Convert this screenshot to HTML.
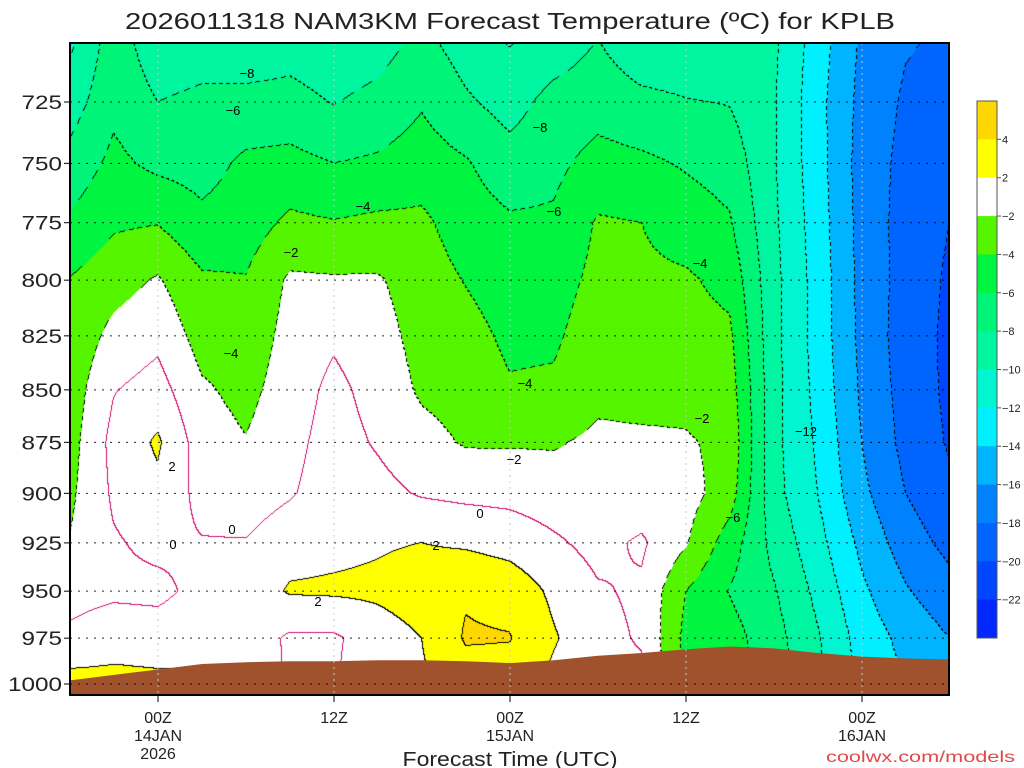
<!DOCTYPE html>
<html><head><meta charset="utf-8"><style>
html,body{margin:0;padding:0;background:#fff;}
#wrap{position:relative;width:1024px;height:768px;overflow:hidden;font-family:"Liberation Sans",sans-serif;}
#field{position:absolute;left:70px;top:43px;}
#ov{position:absolute;left:0;top:0;}
</style></head><body>
<div id="wrap">
<canvas id="field" width="880" height="652"></canvas>
<svg id="ov" width="1024" height="768"></svg>
</div>
<script>
// ---- data ----
const times = [-6,-3,0,3,6,9,12,15,18,21,24,27,30,33,36,39,42,45,48,51,54]; // hours from 00Z 14JAN
const pressures = [700,725,750,775,800,825,850,875,900,925,950,975,1000];
const temps = [
 [-10.5,-9,-7.3,-5.7,-3.9,-3.5,-3.1,-2.8,-2.4,-1.9,-0.7,0.4,2.8],
 [-7,-6.5,-5.5,-4.3,-2.8,-1.4,-0.1,0.6,0.3,-0.2,-0.4,1.2,2.6],
 [-9.3,-8,-6.5,-4.1,-1.8,-0.5,0.8,2.3,1.5,0.5,-0.5,1.0,2.5],
 [-9,-7.6,-6.8,-5.5,-3.7,-2.8,-1.7,-1.0,-0.6,0.1,0.6,1.2,2.3],
 [-9.5,-7.4,-5.6,-5.0,-3.9,-3.3,-2.6,-1.9,-1.0,0.1,0.8,1.2,1.5],
 [-9,-7.3,-5.4,-3.6,-1.7,-1.3,-1.0,-0.6,-0.2,1.2,2.2,-0.3,-0.3],
 [-9.5,-8.1,-6.0,-3.9,-1.8,-0.3,0.5,0.8,1.0,1.5,2.3,-0.3,-0.2],
 [-9,-7.4,-5.7,-3.6,-1.8,-1.2,-0.7,-0.2,0.6,1.8,2.4,1.0,1.5],
 [-7.5,-6.2,-5.0,-3.6,-3.0,-2.7,-2.3,-1.3,-0.2,2.0,3.0,2.0,1.7],
 [-9,-7.7,-5.8,-5.0,-4.1,-3.3,-2.8,-2.2,-0.5,1.7,3.8,4.2,3.0],
 [-10.2,-8.8,-7.2,-5.7,-5.0,-4.4,-3.8,-2.2,-0.6,1.2,3.3,4.1,3.0],
 [-9.3,-7.3,-6.5,-5.7,-4.8,-4.3,-3.7,-2.2,-1.0,0.3,1.6,2.2,1.5],
 [-8,-6.8,-5.3,-3.8,-3.5,-3.0,-2.5,-1.6,-1.2,-0.6,0.2,0.6,0.6],
 [-9.5,-7.5,-5.6,-4.0,-3.6,-3.2,-2.6,-1.7,-1.3,0.3,-0.3,-0.2,0.5],
 [-9.5,-7.9,-6.2,-5.0,-3.7,-3.3,-2.6,-1.8,-1.2,-1.8,-4.0,-4.5,-4.5],
 [-9.5,-8.1,-6.8,-5.8,-4.6,-3.6,-3.0,-2.5,-3.0,-5.0,-6.1,-5.2,-5],
 [-9.6,-9.8,-9.8,-9.6,-9.4,-9.4,-9.3,-9.4,-9.3,-8.6,-7.8,-7.2,-7],
 [-13.0,-13.3,-13.2,-13.0,-12.8,-12.8,-12.6,-12.3,-12.0,-11.3,-10.5,-9.8,-9.5],
 [-16.3,-16.6,-16.8,-16.7,-16.6,-16.5,-16.3,-16.0,-15.5,-14.5,-13.6,-12.8,-12.5],
 [-17.8,-18.3,-18.6,-18.8,-18.8,-19.0,-18.8,-18.6,-18.0,-17.0,-15.8,-14.6,-14],
 [-18.3,-18.8,-19.5,-20.0,-20.3,-20.4,-20.4,-20.2,-19.6,-18.6,-17.3,-16.0,-15.5]
];
const surfaceP = [998,995,992,989,988,987.5,987.5,987,987,987.5,988.5,987,984.5,983,981,979.5,980.5,983,985,986,986.5];
const levels = [-22,-20,-18,-16,-14,-12,-10,-8,-6,-4,-2,2,4];
const levelColors = ["#0028ff","#0046ff","#0064ff","#0082ff","#00b4ff","#00f0ff","#00f5d0","#00f5a0","#00f578","#00f540","#55f500","#ffffff","#ffff00","#ffd700"];
const barLabels = ["4","2","−2","−4","−6","−8","−10","−12","−14","−16","−18","−20","−22"];
const pTicks = [725,750,775,800,825,850,875,900,925,950,975,1000];
const tTicks = [0,12,24,36,48];
const tTickLabels = [["00Z","14JAN","2026"],["12Z"],["00Z","15JAN"],["12Z"],["00Z","16JAN"]];

// ---- axes ----
const X0=70,X1=949,Y0=43,Y1=695;
function xOf(t){return 158+t*176/12;}
function tOf(x){return (x-158)*12/176;}
function yOf(p){return 102+1809.8*(Math.log(p)-Math.log(725));}
function pOf(y){return Math.exp(Math.log(725)+(y-102)/1809.8);}

function tempAt(t,p){
  let ti=(t-times[0])/3; ti=Math.max(0,Math.min(times.length-1.0001,ti));
  let pi=(p-700)/25; pi=Math.max(0,Math.min(pressures.length-1.0001,pi));
  const a=Math.floor(ti),b=Math.floor(pi),fa=ti-a,fb=pi-b;
  const v00=temps[a][b],v01=temps[a][b+1],v10=temps[a+1][b],v11=temps[a+1][b+1];
  return (v00*(1-fb)+v01*fb)*(1-fa)+(v10*(1-fb)+v11*fb)*fa;
}
function band(T){let k=0;for(const l of levels){if(T>=l)k++;}return k;}
function hex(c){return [parseInt(c.slice(1,3),16),parseInt(c.slice(3,5),16),parseInt(c.slice(5,7),16)];}
const rgb=levelColors.map(hex);

// ---- field render ----
const cv=document.getElementById('field'),ctx=cv.getContext('2d');
const W=cv.width,H=cv.height;
const img=ctx.createImageData(W,H);
const B=new Int8Array(W*H),S=new Int8Array(W*H);
for(let j=0;j<H;j++){const p=pOf(Y0+j+0.5);for(let i=0;i<W;i++){const T=tempAt(tOf(X0+i+0.5),p);B[j*W+i]=band(T);S[j*W+i]=T>=0?1:0;}}
for(let j=0;j<H;j++){for(let i=0;i<W;i++){
  const k=j*W+i,b=B[k];let c=rgb[b];
  const r=i<W-1?B[k+1]:b,d=j<H-1?B[k+W]:b;
  let nb=(r!==b)?r:((d!==b)?d:b);
  if(nb!==b){const lev=levels[Math.min(b,nb)];
    if(lev<0){ if(((i+j)%7)<4) c=[0,0,0]; } else c=[0,0,0];
  } else {
    const s=S[k],sr=i<W-1?S[k+1]:s,sd=j<H-1?S[k+W]:s;
    if(s!==sr||s!==sd) c=[208,16,112];
  }
  img.data[k*4]=c[0];img.data[k*4+1]=c[1];img.data[k*4+2]=c[2];img.data[k*4+3]=255;
}}
ctx.putImageData(img,0,0);

// ---- overlay ----
const NS="http://www.w3.org/2000/svg",svg=document.getElementById('ov');
function el(tag,attrs,parent){const e=document.createElementNS(NS,tag);for(const k in attrs)e.setAttribute(k,attrs[k]);(parent||svg).appendChild(e);return e;}

// terrain
let pts=[];
times.forEach((t,i)=>pts.push(xOf(t).toFixed(1)+","+yOf(surfaceP[i]).toFixed(1)));
pts.push(X1+","+Y1,X0+","+Y1);
const terr=el('polygon',{points:pts.join(" "),fill:"#a0522d"});



// gridlines
pTicks.forEach(p=>{const g=el('line',{x1:X0,x2:X1,y1:yOf(p),y2:yOf(p),stroke:"#000","stroke-width":1,"stroke-dasharray":"2,6",opacity:0.85});

});
tTicks.forEach(t=>{const g=el('line',{x1:xOf(t),x2:xOf(t),y1:Y0,y2:Y1,stroke:"#c8c8c8","stroke-width":1,"stroke-dasharray":"2,4"});

});

// frame
const fr=el('rect',{x:X0,y:Y0,width:X1-X0,height:Y1-Y0,fill:"none",stroke:"#000","stroke-width":2});



// y axis labels
pTicks.forEach(p=>{const y=yOf(p);
  el('line',{x1:X0-6,x2:X0,y1:y,y2:y,stroke:"#000","stroke-width":1});
  const tx=el('text',{x:62,y:y+7,"text-anchor":"end","font-size":19,fill:"#222",textLength:String(p).length*13.5,lengthAdjust:"spacingAndGlyphs"});
  tx.textContent=p;
  
  });

// x axis labels
tTicks.forEach((t,i)=>{const x=xOf(t);
  el('line',{x1:x,x2:x,y1:Y1,y2:Y1+7,stroke:"#000","stroke-width":1});
  tTickLabels[i].forEach((s,r)=>{const tx=el('text',{x:x,y:723+r*18,"text-anchor":"middle","font-size":16,fill:"#222"});
    tx.textContent=s;
    
    });});

// contour labels
const cl=[["−8",247,78],["−6",233,115],["−8",540,132],["−4",363,211],["−6",554,216],["−2",291,257],["−4",700,268],["−4",231,358],["−4",525,388],["−2",702,423],["−12",806,436],["2",172,471],["−2",514,464],["0",480,518],["0",232,534],["−6",733,522],["0",173,549],["2",436,550],["2",318,606]];
cl.forEach(c=>{const tx=el('text',{x:c[1],y:c[2],"text-anchor":"middle","font-size":13,fill:"#000"});
  tx.textContent=c[0];
  
  });

// colorbar
const cbTop=101,cbBot=638,nb=levelColors.length,bh=(cbBot-cbTop)/nb;
for(let k=0;k<nb;k++){const r=el('rect',{x:977,y:cbTop+k*bh,width:20,height:bh+0.5,fill:levelColors[nb-1-k]});
  
  }
el('rect',{x:977,y:cbTop,width:20,height:cbBot-cbTop,fill:"none",stroke:"#555","stroke-width":1});
barLabels.forEach((s,k)=>{const y=cbTop+(k+1)*bh;
  el('line',{x1:997,x2:1001,y1:y,y2:y,stroke:"#555"});
  const tx=el('text',{x:1002,y:y+4,"font-size":11,fill:"#222"});
  tx.textContent=s;
  
  });

// titles
const ti=el('text',{x:510,y:29,"text-anchor":"middle","font-size":23,fill:"#222",textLength:770,lengthAdjust:"spacingAndGlyphs"});
ti.textContent="2026011318 NAM3KM Forecast Temperature (ºC) for KPLB";


const xt=el('text',{x:510,y:766,"text-anchor":"middle","font-size":20,fill:"#222",textLength:215,lengthAdjust:"spacingAndGlyphs"});
xt.textContent="Forecast Time (UTC)";


const cr=el('text',{x:1015,y:762,"text-anchor":"end","font-size":16,fill:"#e04848",textLength:189,lengthAdjust:"spacingAndGlyphs"});
cr.textContent="coolwx.com/models";


</script>
</body></html>
